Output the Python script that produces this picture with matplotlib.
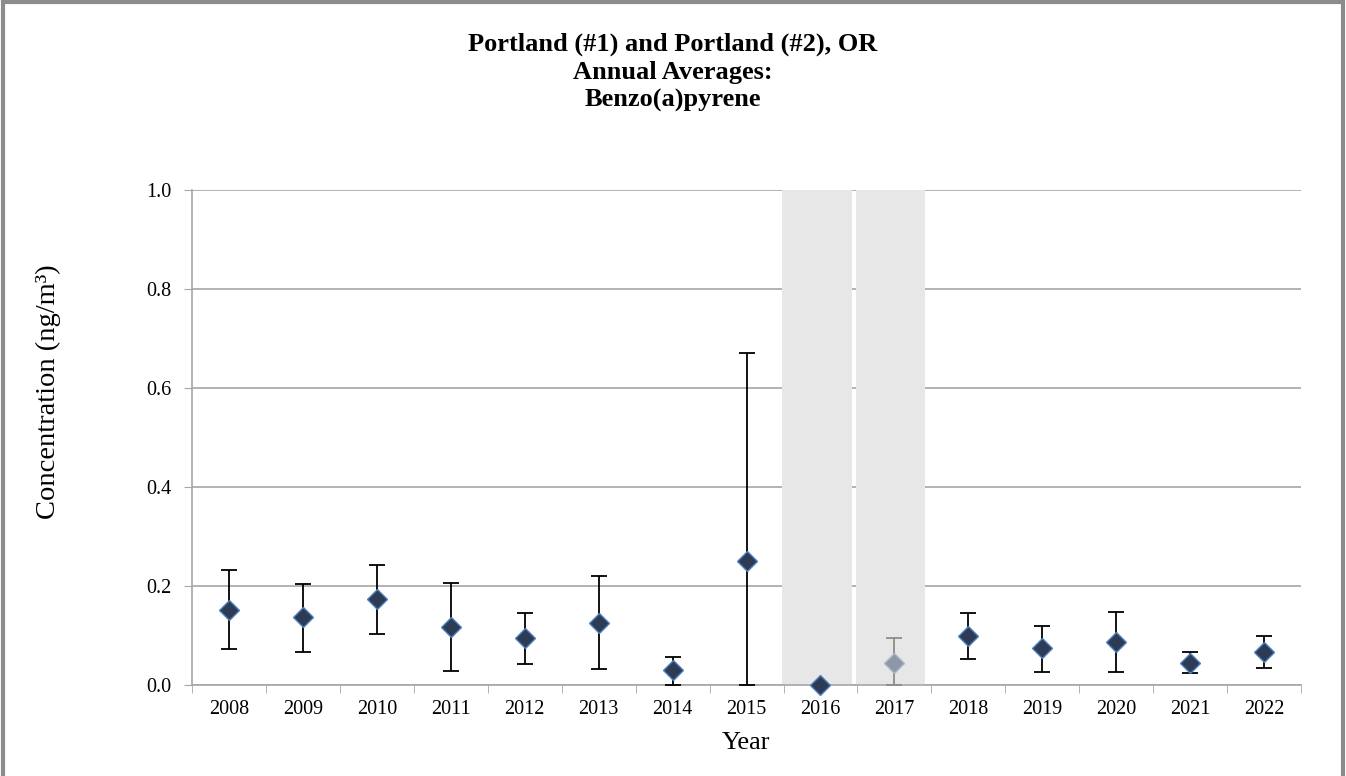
import matplotlib.pyplot as plt
from matplotlib.patches import Rectangle
import numpy as np

years = ['2008', '2009', '2010', '2011', '2012', '2013', '2014', '2015',
         '2016', '2017', '2018', '2019', '2020', '2021', '2022']
avg = [0.152, 0.137, 0.174, 0.117, 0.095, 0.125, 0.030, 0.251,
       0.0, 0.044, 0.099, 0.075, 0.087, 0.045, 0.066]
upper = [0.232, 0.204, 0.243, 0.206, 0.145, 0.220, 0.057, 0.671,
         0.0, 0.095, 0.146, 0.119, 0.147, 0.066, 0.099]
lower = [0.073, 0.067, 0.103, 0.028, 0.043, 0.032, 0.0, 0.0,
         0.0, 0.0, 0.053, 0.027, 0.026, 0.024, 0.034]
shaded_years = ['2016', '2017']
grey_years = ['2017']

plt.rcParams['font.family'] = ['Liberation Serif', 'DejaVu Serif']

fig = plt.figure(figsize=(13.46, 7.76), dpi=100)
# outer grey frame (open at the bottom like the source image)
fig.patches.append(Rectangle((0.002, -0.05), 0.996, 1.047, transform=fig.transFigure,
                             fill=False, edgecolor='#8c8c8c', linewidth=3))

ax = fig.add_axes([0.1427, 0.1173, 0.8239, 0.6379])

x = np.arange(len(years))
avg = np.array(avg)
err_lo = avg - np.array(lower)
err_hi = np.array(upper) - avg

# grey shading for incomplete years
for yr in shaded_years:
    i = years.index(yr)
    ax.axvspan(i - 0.52, i + 0.42, color='#e7e7e7', zorder=1, lw=0)

for i, yr in enumerate(years):
    grey = yr in grey_years
    ecol = '#8c8c8c' if grey else 'black'
    fcol = '#8e97a8' if grey else '#2e3b55'
    mec = '#a9b7cc' if grey else '#4f81bd'
    if err_lo[i] > 0 or err_hi[i] > 0:
        ax.errorbar(x[i], avg[i], yerr=[[err_lo[i]], [err_hi[i]]], fmt='none',
                    ecolor=ecol, elinewidth=1.3, capsize=5.5, capthick=1.3, zorder=3)
    ax.plot(x[i], avg[i], marker='D', markersize=10, color=fcol, mec=mec, mew=1,
            linestyle='none', zorder=4, clip_on=False)

ax.set_xlim(-0.5, len(years) - 0.5)
ax.set_ylim(0, 1.0)
yt = np.arange(0, 1.01, 0.2)
ax.set_yticks(yt)
ax.set_yticklabels([f'{v:.1f}' for v in yt])
ax.set_xticks(x)
ax.set_xticklabels(years)
ax.set_xticks(np.arange(-0.5, len(years), 1), minor=True)
ax.tick_params(axis='x', which='major', length=0, labelsize=14.5, pad=11)
ax.tick_params(axis='x', which='minor', length=6, color='#a6a6a6')
ax.tick_params(axis='y', length=6, color='#a6a6a6', labelsize=14.5, pad=9)

ax.yaxis.grid(True, color='#a6a6a6', linewidth=1.2, zorder=0)
ax.set_axisbelow(True)
for s in ['top', 'right']:
    ax.spines[s].set_visible(False)
for s in ['bottom', 'left']:
    ax.spines[s].set_color('#a6a6a6')
    ax.spines[s].set_linewidth(1.2)

fig.text(0.5542, 1 - 743 / 776, 'Year', ha='center', va='center', fontsize=19)
fig.text(48 / 1346, 1 - 392 / 776, 'Concentration (ng/m³)', ha='center', va='center',
         rotation=90, fontsize=20.5)

fig.text(0.5, 1 - 72 / 776, 'Portland (#1) and Portland (#2), OR\nAnnual Averages:\nBenzo(a)pyrene',
         ha='center', va='center', fontsize=19, fontweight='bold', linespacing=1.27)

fig.savefig('out.png', dpi=100)
